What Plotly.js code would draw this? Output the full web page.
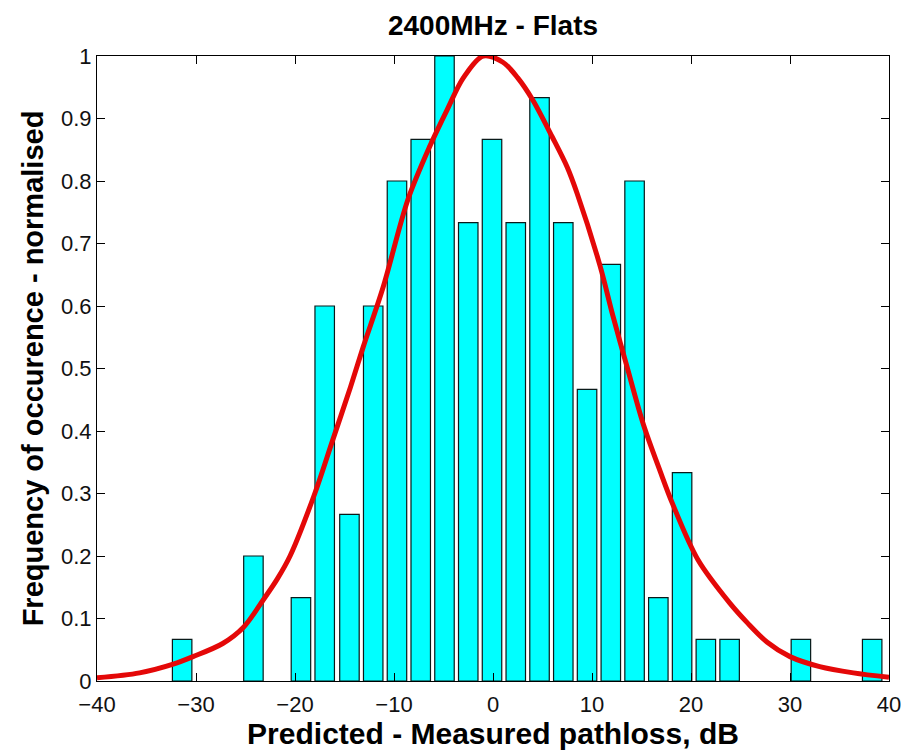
<!DOCTYPE html>
<html>
<head>
<meta charset="utf-8">
<script src="https://cdn.plot.ly/plotly-3.0.1.min.js"></script>
<style>html,body{margin:0;padding:0;background:#fff;}#chart{width:906px;height:756px;}</style>
</head>
<body>
<div id="chart"></div>
<script>
// Histogram bins (centres, dB) and normalised frequencies
const binCentres = [-31.4, -24.2, -19.4, -17.0, -14.5, -12.1, -9.7, -7.3, -4.9, -2.5, -0.1, 2.3, 4.7, 7.1, 9.5, 11.9, 14.3, 16.7, 19.1, 21.5, 23.9, 31.1, 38.3];
const binFreq    = [0.0667, 0.2, 0.1333, 0.6, 0.2667, 0.6, 0.8, 0.8667, 1.0, 0.7333, 0.8667, 0.7333, 0.9333, 0.7333, 0.4667, 0.6667, 0.8, 0.1333, 0.3333, 0.0667, 0.0667, 0.0667, 0.0667];

// Fitted distribution curve
const fitX = [-40, -35.7, -32.3, -30.3, -27.3, -25.2, -23.2, -21.8, -20.5, -18.0, -16.2, -14.4, -13.1, -11.1, -8.6, -6.4, -4.6, -3.0, -1.0, 1.0, 2.5, 4.0, 6.0, 7.5, 8.5, 10.8, 12.1, 13.5, 15.2, 16.9, 18.1, 20.7, 23.9, 25.7, 27.7, 30.0, 33.0, 36.4, 40];
const fitY = [0.005, 0.013, 0.027, 0.039, 0.06, 0.086, 0.13, 0.163, 0.2, 0.3, 0.385, 0.47, 0.535, 0.63, 0.77, 0.855, 0.915, 0.965, 1.0, 0.99, 0.965, 0.93, 0.87, 0.822, 0.78, 0.665, 0.585, 0.505, 0.41, 0.335, 0.285, 0.194, 0.125, 0.093, 0.062, 0.039, 0.023, 0.013, 0.006];

const xTicks = [-40, -30, -20, -10, 0, 10, 20, 30, 40];
const yTicks = [0, 0.1, 0.2, 0.3, 0.4, 0.5, 0.6, 0.7, 0.8, 0.9, 1];

const FONT = 'Liberation Sans, Arial, Helvetica, sans-serif';

const traces = [
  {
    type: 'bar',
    x: binCentres,
    y: binFreq,
    marker: {color: '#00ffff', line: {color: '#0a1a1a', width: 1.2}},
    hoverinfo: 'x+y'
  },
  {
    type: 'scatter',
    mode: 'lines',
    x: fitX,
    y: fitY,
    line: {color: 'rgb(228,8,8)', width: 5, shape: 'spline', smoothing: 0.9}
  }
];

const layout = {
  width: 906,
  height: 756,
  margin: {l: 97, r: 17, t: 56, b: 75},
  paper_bgcolor: '#ffffff',
  plot_bgcolor: '#ffffff',
  showlegend: false,
  bargap: 0.18,
  title: {
    text: '<b>2400MHz - Flats</b>',
    font: {family: FONT, size: 28, color: '#000'},
    x: 0.5, xref: 'paper', xanchor: 'center',
    y: 1 - 25/756, yref: 'container', yanchor: 'middle'
  },
  xaxis: {
    range: [-40, 40],
    tickmode: 'array',
    tickvals: xTicks,
    ticks: 'inside',
    ticklen: 8,
    tickcolor: '#000',
    showline: true,
    linecolor: '#000',
    linewidth: 1,
    mirror: 'ticks',
    showgrid: false,
    zeroline: false,
    ticklabelstandoff: 4,
    tickfont: {family: FONT, size: 22, color: '#111'},
    title: {text: '<b>Predicted - Measured pathloss, dB</b>', font: {family: FONT, size: 30, color: '#000'}, standoff: 4}
  },
  yaxis: {
    range: [0, 1],
    tickmode: 'array',
    tickvals: yTicks,
    ticktext: ['0', '0.1', '0.2', '0.3', '0.4', '0.5', '0.6', '0.7', '0.8', '0.9', '1'],
    ticks: 'inside',
    ticklen: 8,
    tickcolor: '#000',
    showline: true,
    linecolor: '#000',
    linewidth: 1,
    mirror: 'ticks',
    showgrid: false,
    zeroline: false,
    tickfont: {family: FONT, size: 22, color: '#111'},
    title: {text: '<b>Frequency of occurence - normalised</b>', font: {family: FONT, size: 29, color: '#000'}, standoff: 8}
  }
};

Plotly.newPlot('chart', traces, layout, {displayModeBar: false, staticPlot: true});
</script>
</body>
</html>
